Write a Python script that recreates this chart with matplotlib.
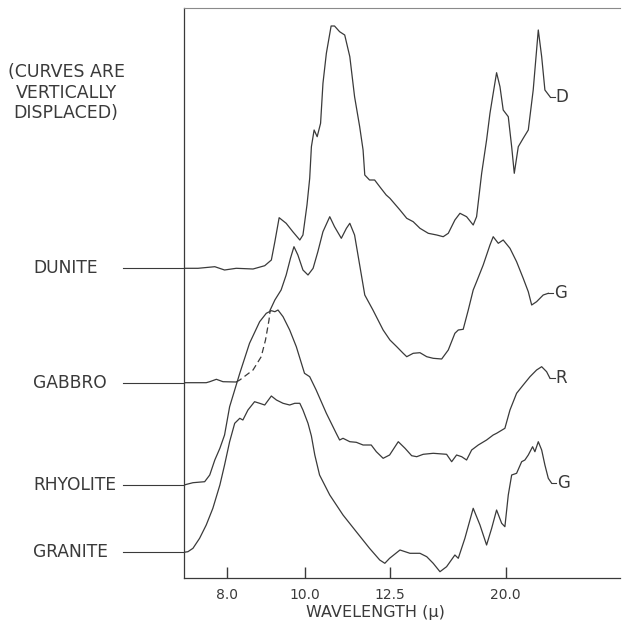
import numpy as np
import matplotlib
matplotlib.use("Agg")
import matplotlib.pyplot as plt
import matplotlib.transforms as mtransforms

# wavelength (micron) vs. chart position: the recorder changes scale, so the
# axis is piecewise linear through these anchor points
SCALE_WL = [6.0, 8.0, 10.0, 12.5, 20.0, 30.0]
SCALE_POS = [149.3, 227.3, 305.3, 390.3, 505.7, 659.6]

TICK_WL = [8.0, 10.0, 12.5, 20.0]
TICK_LABELS = ["8.0", "10.0", "12.5", "20.0"]

# curves are vertically displaced, y is in arbitrary units
dunite_wl = [6.89, 7.25, 7.68, 7.93, 8.23, 8.66, 8.96, 9.13, 9.22, 9.33, 9.51, 9.68, 9.86, 9.94,
             10.05, 10.13, 10.18, 10.26, 10.35, 10.45, 10.52, 10.62, 10.76, 10.86, 11.01, 11.16,
             11.31, 11.45, 11.6, 11.7, 11.75, 11.89, 12.04, 12.19, 12.38, 12.49, 13.13, 13.57,
             13.99, 14.43, 14.97, 15.52, 15.94, 16.27, 16.7, 17.03, 17.46, 17.89, 18.11, 18.44,
             18.76, 18.98, 19.19, 19.41, 19.63, 19.84, 20.17, 20.39, 20.56, 20.82, 21.14, 21.47,
             21.79, 22.12, 22.34, 22.55, 22.88]
dunite_y = [309.7, 309.7, 311.3, 308, 309.7, 309, 312.3, 318, 336.3, 360.3, 354.7, 346.3, 338, 343,
            373, 399.7, 431.3, 448, 441.3, 454.7, 494.7, 524.7, 552, 552, 546.3, 543,
            521.3, 481.3, 451.3, 428, 403, 398, 398, 391.3, 383, 379.7, 368, 359.7,
            356.3, 349.7, 344.7, 343, 341.3, 344.7, 358, 364.7, 361.3, 353, 361.3, 404.7,
            438, 464.7, 484.7, 505.3, 491.3, 468, 461.3, 431.3, 404.7, 431.3, 439.7, 448,
            488, 548, 521.3, 488, 481.3]

gabbro_wl = [6.89, 7.46, 7.55, 7.72, 7.89, 8.23, 8.32, 8.66, 8.87, 8.98, 9.07, 9.1, 9.22, 9.38,
             9.51, 9.62, 9.71, 9.81, 9.94, 10.08, 10.23, 10.37, 10.52, 10.72, 10.86, 11.06,
             11.21, 11.31, 11.45, 11.6, 11.75, 11.99, 12.29, 12.49, 12.92, 13.34, 13.57, 13.99,
             14.43, 14.87, 15.29, 15.84, 16.27, 16.7, 16.92, 17.24, 17.57, 17.89, 18.11, 18.54,
             18.98, 19.19, 19.52, 19.84, 20.28, 20.71, 21.14, 21.47, 21.69, 22.01, 22.44, 22.77]
gabbro_y = [195.3, 195.3, 196.3, 198.7, 196.3, 196, 198, 208, 221.3, 238, 258, 268, 278, 288,
            303, 319.7, 331.3, 323, 308, 303, 309.7, 326.3, 346.3, 361.3, 351.3, 339.7,
            349.7, 354.7, 343, 313, 283, 268, 248, 238, 231.3, 224.7, 221.3, 224.7,
            225.3, 221.3, 219.7, 219, 228, 244.7, 248, 248.7, 268, 288, 296.3, 313,
            333, 341.3, 334.7, 338, 329.7, 316.3, 299.7, 286.3, 273, 276.3, 283, 284.7]
gabbro_dashed = (5, 11)  # index range of the dashed (inferred) stretch

rhyolite_wl = [6.89, 7.12, 7.42, 7.55, 7.68, 7.81, 7.93, 8.06, 8.32, 8.57, 8.83, 9.0, 9.13, 9.22,
               9.3, 9.43, 9.6, 9.77, 9.98, 10.13, 10.32, 10.62, 10.91, 11.01, 11.11, 11.31,
               11.5, 11.7, 11.94, 12.09, 12.29, 12.48, 13.02, 13.46, 13.89, 14.22, 14.64, 15.29,
               16.16, 16.49, 16.81, 17.14, 17.46, 17.79, 18.22, 18.76, 19.19, 19.41, 19.95,
               20.28, 20.71, 21.14, 21.58, 22.01, 22.34, 22.66, 22.88]
rhyolite_y = [93, 95.3, 96.3, 103, 118, 129.7, 143, 171.3, 204.7, 234.7, 256.3, 264.7, 267.3, 266.3,
              268, 261.3, 248, 231.3, 204.7, 201.3, 188, 164.7, 144.7, 138, 139.7, 136.3,
              135.7, 133, 133, 126.3, 119.7, 123, 136.3, 129.7, 122.3, 121.3, 123.7, 124.7,
              123.7, 116.3, 123, 121.3, 118, 128, 133, 138, 143, 144.7, 149.7,
              168, 184.7, 193, 201.3, 208, 211.3, 206.3, 199.7]

granite_wl = [6.89, 6.99, 7.12, 7.29, 7.46, 7.63, 7.81, 7.93, 8.06, 8.19, 8.32, 8.4, 8.53, 8.7,
              8.83, 8.96, 9.13, 9.26, 9.43, 9.6, 9.73, 9.86, 9.94, 10.08, 10.18, 10.28, 10.42,
              10.72, 11.11, 11.5, 11.89, 12.19, 12.34, 12.48, 13.13, 13.78, 14.43, 14.87, 15.29,
              15.73, 16.16, 16.7, 16.92, 17.35, 17.89, 18.33, 18.76, 19.09, 19.41, 19.74, 19.95,
              20.17, 20.39, 20.71, 21.04, 21.25, 21.47, 21.75, 21.9, 22.12, 22.34, 22.55, 22.77, 22.99]
granite_y = [25.7, 26.3, 29.7, 39.7, 53, 69.7, 93, 113, 136.3, 154.7, 159.7, 158, 168, 176.3,
             174.7, 173, 182, 178, 174.7, 173, 174.7, 174.7, 168, 154.7, 142, 123, 103,
             83, 63, 46.3, 29.7, 18, 14.7, 19.7, 28, 24.7, 24.7, 21.3, 14.7,
             6.3, 11.3, 23, 19.7, 39.7, 69.7, 53, 33, 49.7, 68, 54.7, 51.3,
             83, 103, 104.7, 116.3, 118, 123, 131.3, 126.3, 136.3, 128, 113, 99.7, 94.7]

rock_names = ["DUNITE", "GABBRO", "RHYOLITE", "GRANITE"]
end_letters = ["D", "G", "R", "G"]


def fwd(x):
    return np.interp(x, SCALE_WL, SCALE_POS)


def inv(p):
    return np.interp(p, SCALE_POS, SCALE_WL)


ink = "#3a3a3a"
plt.rcParams["font.family"] = ["DejaVu Sans"]

fig = plt.figure(figsize=(6.23, 6.26), dpi=100)
ax = fig.add_axes([184 / 623, 48 / 626, 436 / 623, 570 / 626])
ax.set_xscale("function", functions=(fwd, inv))
ax.set_xlim(6.89, 27.43)
ax.set_ylim(0, 570)

lw = 0.9
ax.plot(dunite_wl, dunite_y, color=ink, lw=lw)
a, b = gabbro_dashed
ax.plot(gabbro_wl[:a + 1], gabbro_y[:a + 1], color=ink, lw=lw)
ax.plot(gabbro_wl[a:b + 1], gabbro_y[a:b + 1], color=ink, lw=lw, ls=(0, (5, 3)))
ax.plot(gabbro_wl[b:], gabbro_y[b:], color=ink, lw=lw)
ax.plot(rhyolite_wl, rhyolite_y, color=ink, lw=lw)
ax.plot(granite_wl, granite_y, color=ink, lw=lw)

# names on the left with leader lines to the axis
trans = mtransforms.blended_transform_factory(ax.transAxes, ax.transData)
for name, ys in zip(rock_names, [dunite_y, gabbro_y, rhyolite_y, granite_y]):
    ax.plot([-0.14, 0], [ys[0], ys[0]], color=ink, lw=0.8, transform=trans, clip_on=False)
    ax.text(-0.346, ys[0], name, transform=trans, ha="left", va="center",
            fontsize=12.3, color=ink)

# letters at the right-hand end of each curve
for letter, xs, ys in zip(end_letters, [dunite_wl, gabbro_wl, rhyolite_wl, granite_wl],
                          [dunite_y, gabbro_y, rhyolite_y, granite_y]):
    ax.plot([xs[-1], xs[-1] + 0.3], [ys[-1], ys[-1]], color=ink, lw=0.8)
    ax.text(xs[-1] + 0.35, ys[-1], letter, ha="left", va="center", fontsize=12, color=ink)

fig.text(66 / 623, 1 - 92.5 / 626, "(CURVES ARE\nVERTICALLY\nDISPLACED)", ha="center",
         va="center", fontsize=12.5, color=ink, linespacing=1.2)

ax.set_xticks(TICK_WL)
ax.set_xticklabels(TICK_LABELS)
ax.minorticks_off()
ax.tick_params(axis="x", direction="in", length=8, width=1, color=ink, pad=7,
               labelsize=10, labelcolor=ink)
ax.set_yticks([])
ax.set_xlabel("WAVELENGTH (\u03bc)", fontsize=11.5, color=ink)
ax.xaxis.set_label_coords(0.438, -0.047)

for side in ["left", "bottom"]:
    ax.spines[side].set_color(ink)
    ax.spines[side].set_linewidth(0.9)
ax.spines["top"].set_color("#8a8a8a")
ax.spines["top"].set_linewidth(0.8)
ax.spines["right"].set_visible(False)

fig.savefig("out.png", dpi=100, facecolor="white")
